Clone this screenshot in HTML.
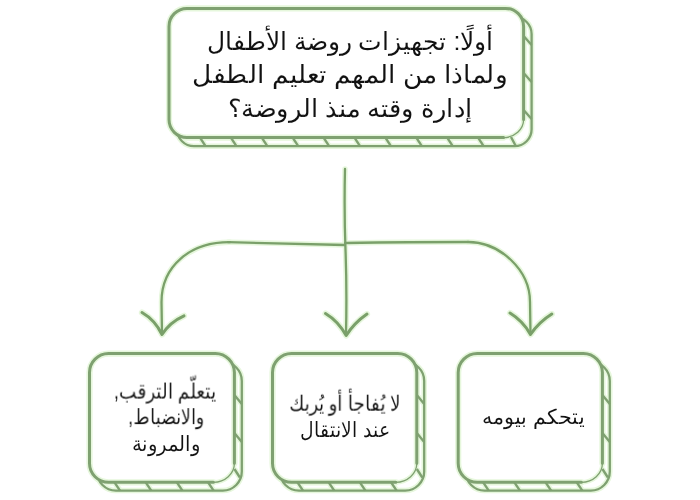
<!DOCTYPE html>
<html><head><meta charset="utf-8">
<style>
html,body{margin:0;padding:0;background:#fff;width:700px;height:500px;overflow:hidden}
body{position:relative;font-family:"Liberation Sans",sans-serif;color:#111}
svg{position:absolute;left:0;top:0}
.t{position:absolute;width:300px;direction:rtl;text-align:center;white-space:nowrap;line-height:1.15;-webkit-text-stroke:0.05px #fff;will-change:transform;transform-origin:50% 72%}
</style></head><body>
<svg width="700" height="500" viewBox="0 0 700 500">
<defs>
<mask id="m0" maskUnits="userSpaceOnUse" x="0" y="0" width="700" height="500"><rect width="700" height="500" fill="#fff"/><rect x="169" y="8.4" width="354.6" height="129.2" rx="18" fill="#000"/></mask>
<mask id="m1" maskUnits="userSpaceOnUse" x="0" y="0" width="700" height="500"><rect width="700" height="500" fill="#fff"/><rect x="89.5" y="353.6" width="144.9" height="128.7" rx="19" fill="#000"/></mask>
<mask id="m2" maskUnits="userSpaceOnUse" x="0" y="0" width="700" height="500"><rect width="700" height="500" fill="#fff"/><rect x="272.5" y="353.6" width="144.3" height="128.7" rx="19" fill="#000"/></mask>
<mask id="m3" maskUnits="userSpaceOnUse" x="0" y="0" width="700" height="500"><rect width="700" height="500" fill="#fff"/><rect x="458.2" y="353.6" width="144.2" height="128.7" rx="19" fill="#000"/></mask>
</defs>
<g mask="url(#m0)"><rect x="177" y="17.0" width="354.6" height="129.2" rx="17" fill="none" stroke="#e6f7dc" stroke-width="5.5"/>
<line x1="200.0" y1="137.6" x2="205.5" y2="146.2" stroke="#e6f7dc" stroke-width="5.6"/>
<line x1="230.9" y1="137.6" x2="236.4" y2="146.2" stroke="#e6f7dc" stroke-width="5.6"/>
<line x1="261.8" y1="137.6" x2="267.3" y2="146.2" stroke="#e6f7dc" stroke-width="5.6"/>
<line x1="292.7" y1="137.6" x2="298.2" y2="146.2" stroke="#e6f7dc" stroke-width="5.6"/>
<line x1="323.6" y1="137.6" x2="329.1" y2="146.2" stroke="#e6f7dc" stroke-width="5.6"/>
<line x1="354.5" y1="137.6" x2="360.0" y2="146.2" stroke="#e6f7dc" stroke-width="5.6"/>
<line x1="385.4" y1="137.6" x2="390.9" y2="146.2" stroke="#e6f7dc" stroke-width="5.6"/>
<line x1="416.29999999999995" y1="137.6" x2="421.79999999999995" y2="146.2" stroke="#e6f7dc" stroke-width="5.6"/>
<line x1="447.2" y1="137.6" x2="452.7" y2="146.2" stroke="#e6f7dc" stroke-width="5.6"/>
<line x1="478.09999999999997" y1="137.6" x2="483.59999999999997" y2="146.2" stroke="#e6f7dc" stroke-width="5.6"/>
<line x1="523.6" y1="36" x2="531.6" y2="45" stroke="#e6f7dc" stroke-width="5.6"/>
<line x1="523.6" y1="73" x2="531.6" y2="82" stroke="#e6f7dc" stroke-width="5.6"/>
<line x1="523.6" y1="110" x2="531.6" y2="119" stroke="#e6f7dc" stroke-width="5.6"/>
<line x1="511" y1="137" x2="515.5" y2="145.5" stroke="#e6f7dc" stroke-width="5.6"/></g>
<path d="M523.6,119.6 V26.4 A18,18 0 0 0 505.6,8.4 H187 A18,18 0 0 0 169,26.4 V119.6 A18,18 0 0 0 187,137.6 H503.6" fill="none" stroke-linecap="round" stroke="#e6f7dc" stroke-width="6.2"/>
<path d="M503.6,137.6 A20,18 0 0 0 523.6,119.6" fill="none" stroke="#e6f7dc" stroke-width="4.5"/>
<g mask="url(#m1)"><rect x="96.9" y="361.90000000000003" width="144.9" height="128.7" rx="19" fill="none" stroke="#e6f7dc" stroke-width="5.5"/>
<line x1="114.5" y1="482.3" x2="120.0" y2="490.6" stroke="#e6f7dc" stroke-width="5.6"/>
<line x1="145.7" y1="482.3" x2="151.2" y2="490.6" stroke="#e6f7dc" stroke-width="5.6"/>
<line x1="176.9" y1="482.3" x2="182.4" y2="490.6" stroke="#e6f7dc" stroke-width="5.6"/>
<line x1="208.1" y1="482.3" x2="213.6" y2="490.6" stroke="#e6f7dc" stroke-width="5.6"/>
<line x1="234.4" y1="395" x2="241.8" y2="404" stroke="#e6f7dc" stroke-width="5.6"/>
<line x1="234.4" y1="433" x2="241.8" y2="442" stroke="#e6f7dc" stroke-width="5.6"/>
<line x1="234.4" y1="469" x2="239.9" y2="477.5" stroke="#e6f7dc" stroke-width="5.6"/></g>
<path d="M234.4,463.3 V372.6 A19,19 0 0 0 215.4,353.6 H108.5 A19,19 0 0 0 89.5,372.6 V463.3 A19,19 0 0 0 108.5,482.3 H213.4" fill="none" stroke-linecap="round" stroke="#e6f7dc" stroke-width="6.2"/>
<path d="M213.4,482.3 A21,19 0 0 0 234.4,463.3" fill="none" stroke="#e6f7dc" stroke-width="4.5"/>
<g mask="url(#m2)"><rect x="279.9" y="361.90000000000003" width="144.3" height="128.7" rx="19" fill="none" stroke="#e6f7dc" stroke-width="5.5"/>
<line x1="297.5" y1="482.3" x2="303.0" y2="490.6" stroke="#e6f7dc" stroke-width="5.6"/>
<line x1="328.7" y1="482.3" x2="334.2" y2="490.6" stroke="#e6f7dc" stroke-width="5.6"/>
<line x1="359.9" y1="482.3" x2="365.4" y2="490.6" stroke="#e6f7dc" stroke-width="5.6"/>
<line x1="391.1" y1="482.3" x2="396.6" y2="490.6" stroke="#e6f7dc" stroke-width="5.6"/>
<line x1="416.8" y1="395" x2="424.2" y2="404" stroke="#e6f7dc" stroke-width="5.6"/>
<line x1="416.8" y1="433" x2="424.2" y2="442" stroke="#e6f7dc" stroke-width="5.6"/>
<line x1="416.8" y1="469" x2="422.3" y2="477.5" stroke="#e6f7dc" stroke-width="5.6"/></g>
<path d="M416.8,463.3 V372.6 A19,19 0 0 0 397.8,353.6 H291.5 A19,19 0 0 0 272.5,372.6 V463.3 A19,19 0 0 0 291.5,482.3 H395.8" fill="none" stroke-linecap="round" stroke="#e6f7dc" stroke-width="6.2"/>
<path d="M395.8,482.3 A21,19 0 0 0 416.8,463.3" fill="none" stroke="#e6f7dc" stroke-width="4.5"/>
<g mask="url(#m3)"><rect x="465.59999999999997" y="361.90000000000003" width="144.2" height="128.7" rx="19" fill="none" stroke="#e6f7dc" stroke-width="5.5"/>
<line x1="483.2" y1="482.3" x2="488.7" y2="490.6" stroke="#e6f7dc" stroke-width="5.6"/>
<line x1="514.4" y1="482.3" x2="519.9" y2="490.6" stroke="#e6f7dc" stroke-width="5.6"/>
<line x1="545.6" y1="482.3" x2="551.1" y2="490.6" stroke="#e6f7dc" stroke-width="5.6"/>
<line x1="576.8" y1="482.3" x2="582.3" y2="490.6" stroke="#e6f7dc" stroke-width="5.6"/>
<line x1="602.4" y1="395" x2="609.8" y2="404" stroke="#e6f7dc" stroke-width="5.6"/>
<line x1="602.4" y1="433" x2="609.8" y2="442" stroke="#e6f7dc" stroke-width="5.6"/>
<line x1="602.4" y1="469" x2="607.9" y2="477.5" stroke="#e6f7dc" stroke-width="5.6"/></g>
<path d="M602.4,463.3 V372.6 A19,19 0 0 0 583.4,353.6 H477.2 A19,19 0 0 0 458.2,372.6 V463.3 A19,19 0 0 0 477.2,482.3 H581.4" fill="none" stroke-linecap="round" stroke="#e6f7dc" stroke-width="6.2"/>
<path d="M581.4,482.3 A21,19 0 0 0 602.4,463.3" fill="none" stroke="#e6f7dc" stroke-width="4.5"/>
<path d="M345 169 Q344 210 345.5 250 T346 334" fill="none" stroke-linecap="round" stroke="#e6f7dc" stroke-width="5.5"/>
<path d="M228 242.2 Q285 243.5 345 245" fill="none" stroke-linecap="round" stroke="#e6f7dc" stroke-width="5.5"/>
<path d="M345 243 Q410 242 468 242" fill="none" stroke-linecap="round" stroke="#e6f7dc" stroke-width="5.5"/>
<path d="M230 242.2 C190 242 161.5 266 161.5 302 L162 334" fill="none" stroke-linecap="round" stroke="#e6f7dc" stroke-width="5.5"/>
<path d="M468 242 C500 242 530 270 530 302 L530.5 334" fill="none" stroke-linecap="round" stroke="#e6f7dc" stroke-width="5.5"/>
<path d="M142 312.5 Q155 320 162 334.5 Q170 322 184 315.8" fill="none" stroke-linecap="round" stroke-linejoin="round" stroke="#e6f7dc" stroke-width="6.2"/>
<path d="M325.5 313.5 Q338 321 346.2 335.5 Q354 323 367 314" fill="none" stroke-linecap="round" stroke-linejoin="round" stroke="#e6f7dc" stroke-width="6.2"/>
<path d="M510 313 Q523 321 530.5 334.4 Q539 322 551.8 314" fill="none" stroke-linecap="round" stroke-linejoin="round" stroke="#e6f7dc" stroke-width="6.2"/>
<g mask="url(#m0)"><rect x="177" y="17.0" width="354.6" height="129.2" rx="17" fill="none" stroke="#7fa171" stroke-width="2.3"/>
<line x1="200.0" y1="137.6" x2="205.5" y2="146.2" stroke="#7fa171" stroke-width="2.4"/>
<line x1="230.9" y1="137.6" x2="236.4" y2="146.2" stroke="#7fa171" stroke-width="2.4"/>
<line x1="261.8" y1="137.6" x2="267.3" y2="146.2" stroke="#7fa171" stroke-width="2.4"/>
<line x1="292.7" y1="137.6" x2="298.2" y2="146.2" stroke="#7fa171" stroke-width="2.4"/>
<line x1="323.6" y1="137.6" x2="329.1" y2="146.2" stroke="#7fa171" stroke-width="2.4"/>
<line x1="354.5" y1="137.6" x2="360.0" y2="146.2" stroke="#7fa171" stroke-width="2.4"/>
<line x1="385.4" y1="137.6" x2="390.9" y2="146.2" stroke="#7fa171" stroke-width="2.4"/>
<line x1="416.29999999999995" y1="137.6" x2="421.79999999999995" y2="146.2" stroke="#7fa171" stroke-width="2.4"/>
<line x1="447.2" y1="137.6" x2="452.7" y2="146.2" stroke="#7fa171" stroke-width="2.4"/>
<line x1="478.09999999999997" y1="137.6" x2="483.59999999999997" y2="146.2" stroke="#7fa171" stroke-width="2.4"/>
<line x1="523.6" y1="36" x2="531.6" y2="45" stroke="#7fa171" stroke-width="2.4"/>
<line x1="523.6" y1="73" x2="531.6" y2="82" stroke="#7fa171" stroke-width="2.4"/>
<line x1="523.6" y1="110" x2="531.6" y2="119" stroke="#7fa171" stroke-width="2.4"/>
<line x1="511" y1="137" x2="515.5" y2="145.5" stroke="#7fa171" stroke-width="2.4"/></g>
<path d="M523.6,119.6 V26.4 A18,18 0 0 0 505.6,8.4 H187 A18,18 0 0 0 169,26.4 V119.6 A18,18 0 0 0 187,137.6 H503.6" fill="none" stroke-linecap="round" stroke="#7fa171" stroke-width="3.0"/>
<path d="M503.6,137.6 A20,18 0 0 0 523.6,119.6" fill="none" stroke="#7fa171" stroke-width="1.3"/>
<g mask="url(#m1)"><rect x="96.9" y="361.90000000000003" width="144.9" height="128.7" rx="19" fill="none" stroke="#7fa171" stroke-width="2.3"/>
<line x1="114.5" y1="482.3" x2="120.0" y2="490.6" stroke="#7fa171" stroke-width="2.4"/>
<line x1="145.7" y1="482.3" x2="151.2" y2="490.6" stroke="#7fa171" stroke-width="2.4"/>
<line x1="176.9" y1="482.3" x2="182.4" y2="490.6" stroke="#7fa171" stroke-width="2.4"/>
<line x1="208.1" y1="482.3" x2="213.6" y2="490.6" stroke="#7fa171" stroke-width="2.4"/>
<line x1="234.4" y1="395" x2="241.8" y2="404" stroke="#7fa171" stroke-width="2.4"/>
<line x1="234.4" y1="433" x2="241.8" y2="442" stroke="#7fa171" stroke-width="2.4"/>
<line x1="234.4" y1="469" x2="239.9" y2="477.5" stroke="#7fa171" stroke-width="2.4"/></g>
<path d="M234.4,463.3 V372.6 A19,19 0 0 0 215.4,353.6 H108.5 A19,19 0 0 0 89.5,372.6 V463.3 A19,19 0 0 0 108.5,482.3 H213.4" fill="none" stroke-linecap="round" stroke="#7fa171" stroke-width="3.0"/>
<path d="M213.4,482.3 A21,19 0 0 0 234.4,463.3" fill="none" stroke="#7fa171" stroke-width="1.3"/>
<g mask="url(#m2)"><rect x="279.9" y="361.90000000000003" width="144.3" height="128.7" rx="19" fill="none" stroke="#7fa171" stroke-width="2.3"/>
<line x1="297.5" y1="482.3" x2="303.0" y2="490.6" stroke="#7fa171" stroke-width="2.4"/>
<line x1="328.7" y1="482.3" x2="334.2" y2="490.6" stroke="#7fa171" stroke-width="2.4"/>
<line x1="359.9" y1="482.3" x2="365.4" y2="490.6" stroke="#7fa171" stroke-width="2.4"/>
<line x1="391.1" y1="482.3" x2="396.6" y2="490.6" stroke="#7fa171" stroke-width="2.4"/>
<line x1="416.8" y1="395" x2="424.2" y2="404" stroke="#7fa171" stroke-width="2.4"/>
<line x1="416.8" y1="433" x2="424.2" y2="442" stroke="#7fa171" stroke-width="2.4"/>
<line x1="416.8" y1="469" x2="422.3" y2="477.5" stroke="#7fa171" stroke-width="2.4"/></g>
<path d="M416.8,463.3 V372.6 A19,19 0 0 0 397.8,353.6 H291.5 A19,19 0 0 0 272.5,372.6 V463.3 A19,19 0 0 0 291.5,482.3 H395.8" fill="none" stroke-linecap="round" stroke="#7fa171" stroke-width="3.0"/>
<path d="M395.8,482.3 A21,19 0 0 0 416.8,463.3" fill="none" stroke="#7fa171" stroke-width="1.3"/>
<g mask="url(#m3)"><rect x="465.59999999999997" y="361.90000000000003" width="144.2" height="128.7" rx="19" fill="none" stroke="#7fa171" stroke-width="2.3"/>
<line x1="483.2" y1="482.3" x2="488.7" y2="490.6" stroke="#7fa171" stroke-width="2.4"/>
<line x1="514.4" y1="482.3" x2="519.9" y2="490.6" stroke="#7fa171" stroke-width="2.4"/>
<line x1="545.6" y1="482.3" x2="551.1" y2="490.6" stroke="#7fa171" stroke-width="2.4"/>
<line x1="576.8" y1="482.3" x2="582.3" y2="490.6" stroke="#7fa171" stroke-width="2.4"/>
<line x1="602.4" y1="395" x2="609.8" y2="404" stroke="#7fa171" stroke-width="2.4"/>
<line x1="602.4" y1="433" x2="609.8" y2="442" stroke="#7fa171" stroke-width="2.4"/>
<line x1="602.4" y1="469" x2="607.9" y2="477.5" stroke="#7fa171" stroke-width="2.4"/></g>
<path d="M602.4,463.3 V372.6 A19,19 0 0 0 583.4,353.6 H477.2 A19,19 0 0 0 458.2,372.6 V463.3 A19,19 0 0 0 477.2,482.3 H581.4" fill="none" stroke-linecap="round" stroke="#7fa171" stroke-width="3.0"/>
<path d="M581.4,482.3 A21,19 0 0 0 602.4,463.3" fill="none" stroke="#7fa171" stroke-width="1.3"/>
<path d="M345 169 Q344 210 345.5 250 T346 334" fill="none" stroke-linecap="round" stroke="#7aa06a" stroke-width="2.3"/>
<path d="M228 242.2 Q285 243.5 345 245" fill="none" stroke-linecap="round" stroke="#7aa06a" stroke-width="2.3"/>
<path d="M345 243 Q410 242 468 242" fill="none" stroke-linecap="round" stroke="#7aa06a" stroke-width="2.3"/>
<path d="M230 242.2 C190 242 161.5 266 161.5 302 L162 334" fill="none" stroke-linecap="round" stroke="#7aa06a" stroke-width="2.3"/>
<path d="M468 242 C500 242 530 270 530 302 L530.5 334" fill="none" stroke-linecap="round" stroke="#7aa06a" stroke-width="2.3"/>
<path d="M142 312.5 Q155 320 162 334.5 Q170 322 184 315.8" fill="none" stroke-linecap="round" stroke-linejoin="round" stroke="#7aa06a" stroke-width="3"/>
<path d="M325.5 313.5 Q338 321 346.2 335.5 Q354 323 367 314" fill="none" stroke-linecap="round" stroke-linejoin="round" stroke="#7aa06a" stroke-width="3"/>
<path d="M510 313 Q523 321 530.5 334.4 Q539 322 551.8 314" fill="none" stroke-linecap="round" stroke-linejoin="round" stroke="#7aa06a" stroke-width="3"/>
</svg>
<div class="t" style="left:199.5px;top:27px;font-size:25px;transform:scale(1,1);color:#111">أولًا: تجهيزات روضة الأطفال</div>
<div class="t" style="left:199.5px;top:60px;font-size:25px;transform:scale(1.058,1);color:#111">ولماذا من المهم تعليم الطفل</div>
<div class="t" style="left:199.5px;top:94px;font-size:25px;transform:scale(1.026,1);color:#111">إدارة وقته منذ الروضة؟</div>
<div class="t" style="left:15px;top:381px;font-size:19px;transform:scale(0.98,1.12);color:#111">يتعلّم الترقب,</div>
<div class="t" style="left:15.800000000000011px;top:407px;font-size:19px;transform:scale(0.93,1.12);color:#111">والانضباط,</div>
<div class="t" style="left:15.800000000000011px;top:434px;font-size:19px;transform:scale(1.05,1.12);color:#111">والمرونة</div>
<div class="t" style="left:195px;top:393.0px;font-size:19px;transform:scale(0.96,1.12);color:#111">لا يُفاجأ أو يُربك</div>
<div class="t" style="left:195px;top:419.5px;font-size:19px;transform:scale(1,1.12);color:#111">عند الانتقال</div>
<div class="t" style="left:383px;top:407px;font-size:19px;transform:scale(1.1,1.12);color:#111">يتحكم بيومه</div>
</body></html>
